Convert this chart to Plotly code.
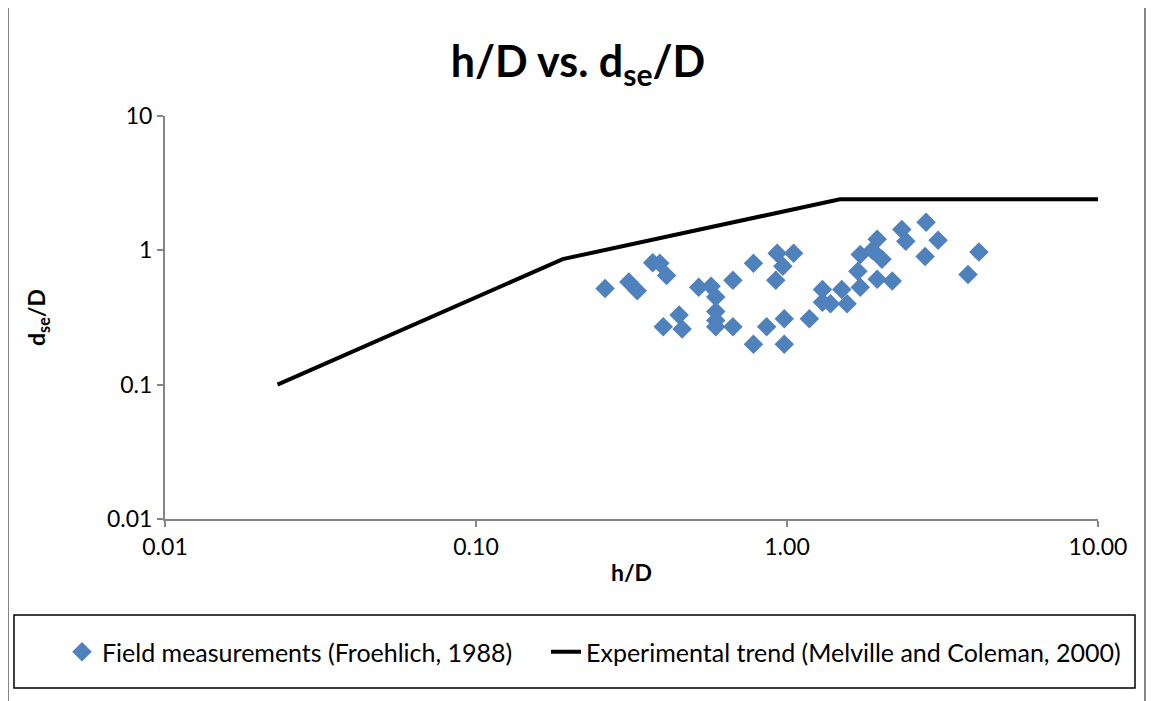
import plotly.graph_objects as go

h_D = [0.26, 0.31, 0.33, 0.37, 0.39, 0.41, 0.40, 0.45, 0.46, 0.52,
       0.57, 0.59, 0.59, 0.59, 0.59, 0.67, 0.67, 0.78, 0.93, 1.05,
       0.97, 0.92, 0.78, 0.86, 0.98, 0.98, 1.18, 1.30, 1.30, 1.38,
       1.50, 1.56, 1.72, 1.69, 1.72, 1.88, 1.95, 2.02, 1.95, 2.18,
       2.34, 2.41, 2.80, 3.06, 2.78, 4.14, 3.82]
dse_D = [0.52, 0.58, 0.50, 0.81, 0.80, 0.65, 0.27, 0.33, 0.26, 0.53,
         0.54, 0.45, 0.35, 0.30, 0.27, 0.27, 0.60, 0.80, 0.95, 0.95,
         0.76, 0.60, 0.20, 0.27, 0.31, 0.20, 0.31, 0.51, 0.41, 0.40,
         0.51, 0.40, 0.53, 0.70, 0.93, 1.00, 1.21, 0.86, 0.61, 0.59,
         1.43, 1.17, 1.62, 1.19, 0.90, 0.97, 0.66]

# experimental trend (Melville and Coleman, 2000)
trend_x = [0.023, 0.19, 1.48, 10.0]
trend_y = [0.1, 0.86, 2.4, 2.4]

x_ticks = [0.01, 0.1, 1, 10]
x_ticktext = ["0.01", "0.10", "1.00", "10.00"]
y_ticks = [0.01, 0.1, 1, 10]
y_ticktext = ["0.01", "0.1", "1", "10"]

FONT = "Lato, 'Open Sans', sans-serif"

fig = go.Figure()
fig.add_trace(go.Scatter(
    x=h_D, y=dse_D, mode="markers",
    name="Field measurements (Froehlich, 1988)",
    marker=dict(symbol="diamond", size=15, color="#4F81BD"),
    legend="legend",
))
fig.add_trace(go.Scatter(
    x=trend_x, y=trend_y, mode="lines",
    name="Experimental trend (Melville and Coleman, 2000)",
    line=dict(color="black", width=4),
    legend="legend2",
))

# the page body adds an 8px offset, so the figure is 8px smaller
OFF = 8
W, H = 1154 - OFF, 701 - OFF
# plot area in screen pixels: x 165..1098, y 116..519
L, T = 165 - OFF, 116 - OFF
R, B = W - (1098 - OFF), H - (519 - OFF)
pw, ph = W - L - R, H - T - B


def px(x):
    # screen pixel -> paper fraction
    return (x - OFF - L) / pw


def py(y):
    return (H - B - (y - OFF)) / ph


legend_style = dict(
    orientation="h", yanchor="middle", xanchor="left",
    font=dict(size=25), bgcolor="rgba(0,0,0,0)", itemwidth=30,
)

fig.update_layout(
    width=W, height=H,
    margin=dict(l=L, r=R, t=T, b=B),
    plot_bgcolor="white", paper_bgcolor="white",
    font=dict(family=FONT, size=23, color="black"),
    title=dict(
        text="<b>h/D vs. d<sub>se</sub>/D</b>",
        x=px(578), xref="paper", xanchor="center",
        y=1 - (62 - OFF) / H, yanchor="middle",
        font=dict(size=43),
    ),
    showlegend=True,
    legend=dict(x=px(62), y=py(652), **legend_style),
    legend2=dict(x=px(546), y=py(652), **legend_style),
    shapes=[
        # chart area border
        dict(type="rect", xref="paper", yref="paper",
             x0=px(8), x1=px(1145), y0=py(712), y1=py(5),
             line=dict(color="#868686", width=2)),
        # legend box
        dict(type="rect", xref="paper", yref="paper",
             x0=px(14), x1=px(1135), y0=py(688), y1=py(615),
             line=dict(color="black", width=1.5)),
    ],
)

fig.update_xaxes(
    type="log", range=[-2, 1],
    tickvals=x_ticks, ticktext=x_ticktext,
    showgrid=False, zeroline=False,
    showline=True, linecolor="#868686", linewidth=2,
    ticks="outside", tickcolor="#868686", ticklen=6, tickwidth=2,
    title=dict(text="<b>h/D</b>", standoff=6, font=dict(size=23)),
)
fig.update_yaxes(
    type="log", range=[-2, 1],
    tickvals=y_ticks, ticktext=y_ticktext,
    showgrid=False, zeroline=False,
    showline=True, linecolor="#868686", linewidth=2,
    ticks="outside", tickcolor="#868686", ticklen=6, tickwidth=2,
    title=dict(text="<b>d<sub>se</sub>/D</b>", standoff=55, font=dict(size=23)),
)

fig.write_html("out.html")
